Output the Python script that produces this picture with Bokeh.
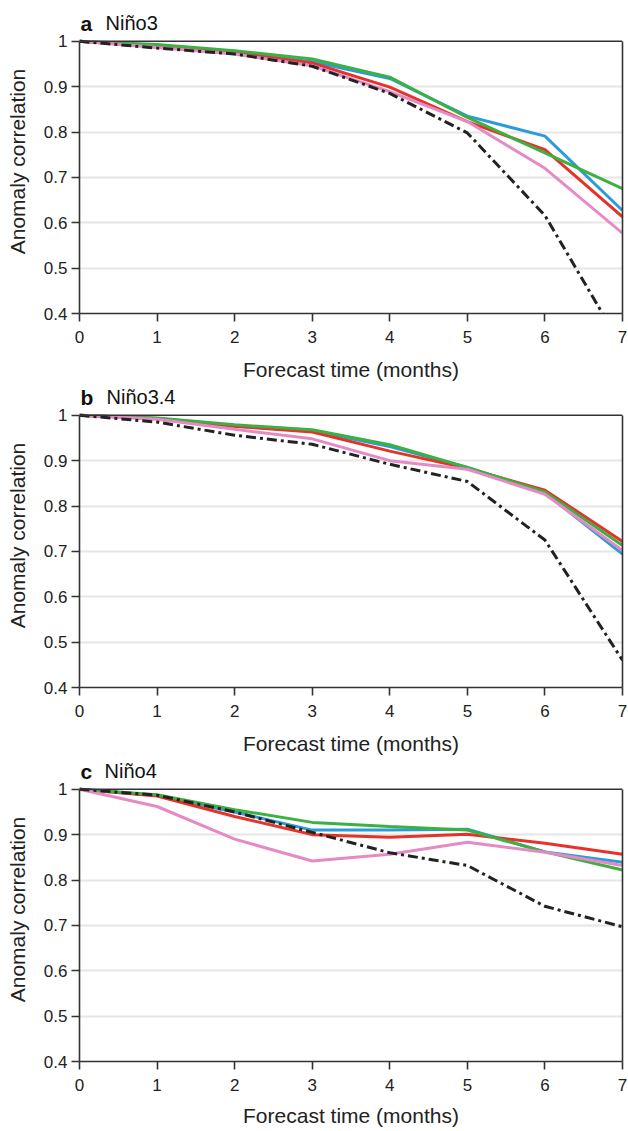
from bokeh.plotting import figure
from bokeh.layouts import column
from bokeh.models import Range1d, FixedTicker, CustomJSTickFormatter, LinearAxis, Span
from bokeh.core.properties import value
from bokeh.embed import file_html
from bokeh.resources import INLINE

months = [0, 1, 2, 3, 4, 5, 6, 7]
x_ticks = [0, 1, 2, 3, 4, 5, 6, 7]
y_ticks = [0.4, 0.5, 0.6, 0.7, 0.8, 0.9, 1.0]
grid_ticks = [0.4, 0.5, 0.6, 0.7, 0.8, 0.9]

panel_letters = ["a", "b", "c"]
panel_names = ["Niño3", "Niño3.4", "Niño4"]

# Niño3
n3_blue = [1.0, 0.990, 0.975, 0.955, 0.918, 0.835, 0.791, 0.627]
n3_red = [1.0, 0.988, 0.974, 0.952, 0.899, 0.823, 0.761, 0.613]
n3_green = [1.0, 0.993, 0.979, 0.961, 0.921, 0.832, 0.754, 0.675]
n3_pink = [1.0, 0.986, 0.972, 0.946, 0.889, 0.823, 0.720, 0.577]
n3_black = [1.0, 0.985, 0.972, 0.945, 0.885, 0.798, 0.616, 0.325]

# Niño3.4
n34_blue = [1.0, 0.993, 0.976, 0.966, 0.931, 0.885, 0.829, 0.694]
n34_red = [1.0, 0.993, 0.976, 0.963, 0.921, 0.883, 0.835, 0.722]
n34_green = [1.0, 0.994, 0.979, 0.968, 0.935, 0.885, 0.831, 0.713]
n34_pink = [1.0, 0.991, 0.969, 0.948, 0.900, 0.881, 0.826, 0.702]
n34_black = [1.0, 0.985, 0.956, 0.936, 0.892, 0.854, 0.725, 0.460]

# Niño4
n4_blue = [1.0, 0.986, 0.950, 0.910, 0.910, 0.912, 0.862, 0.839]
n4_red = [1.0, 0.985, 0.940, 0.900, 0.894, 0.901, 0.881, 0.857]
n4_green = [1.0, 0.988, 0.955, 0.927, 0.918, 0.910, 0.862, 0.822]
n4_pink = [1.0, 0.962, 0.890, 0.842, 0.857, 0.883, 0.861, 0.832]
n4_black = [1.0, 0.987, 0.950, 0.905, 0.860, 0.832, 0.742, 0.697]

panels = [
    (n3_blue, n3_red, n3_green, n3_pink, n3_black),
    (n34_blue, n34_red, n34_green, n34_pink, n34_black),
    (n4_blue, n4_red, n4_green, n4_pink, n4_black),
]

BLUE = "#2b9cd8"
RED = "#e5332a"
GREEN = "#3cb043"
PINK = "#e68ac6"
BLACK = "#222222"
AX = "#333333"
FONT = "Liberation Sans"

# frame covers 0.4..1.07 so that the panel title sits inside it
borders = [(9, 70), (0, 70), (0, 68)]
tick_standoffs = [9, 9, 9]
label_standoffs = [12, 12, 10]
name_offsets = [26, 27, 25]

figs = []
for i, (blue, red, green, pink, black) in enumerate(panels):
    top, bottom = borders[i]
    p = figure(frame_width=543, frame_height=304,
               x_range=Range1d(0, 7), y_range=Range1d(0.4, 1.07),
               output_backend="svg", toolbar_location=None,
               min_border_left=79, min_border_right=6,
               min_border_top=top, min_border_bottom=bottom)
    p.outline_line_color = None
    p.background_fill_color = "white"
    p.border_fill_color = "white"

    p.xgrid.grid_line_color = None
    p.ygrid.grid_line_color = "#e6e6e6"
    p.ygrid.grid_line_width = 2
    p.ygrid.ticker = FixedTicker(ticks=grid_ticks)

    p.xaxis.ticker = FixedTicker(ticks=x_ticks)
    p.yaxis.ticker = FixedTicker(ticks=y_ticks)
    p.yaxis.bounds = (0.4, 1.0)
    p.yaxis.formatter = CustomJSTickFormatter(code="return String(Math.round(tick*10)/10);")
    for ax in (p.xaxis[0], p.yaxis[0]):
        ax.axis_line_color = AX
        ax.axis_line_width = 1.6
        ax.major_tick_line_color = AX
        ax.major_tick_line_width = 1.6
        ax.major_tick_out = 8
        ax.major_tick_in = 0
        ax.minor_tick_line_color = None
        ax.major_label_text_font = FONT
        ax.major_label_text_font_size = "17px"
        ax.major_label_text_color = "#222222"
        ax.axis_label_text_font = FONT
        ax.axis_label_text_font_size = "21px"
        ax.axis_label_text_font_style = "normal"
        ax.axis_label_text_color = "#222222"
    p.xaxis.axis_label = "Forecast time (months)"
    p.yaxis.axis_label = "Anomaly correlation"
    p.xaxis.major_label_standoff = tick_standoffs[i]
    p.xaxis.axis_label_standoff = label_standoffs[i]
    p.yaxis.major_label_standoff = 4
    p.yaxis.axis_label_standoff = 12

    # right and top borders of the box
    right = LinearAxis(ticker=FixedTicker(ticks=[]), bounds=(0.4, 1.0),
                       axis_line_color=AX, axis_line_width=1.6,
                       major_tick_line_color=None, minor_tick_line_color=None,
                       major_label_text_font_size="0px")
    p.add_layout(right, "right")
    p.add_layout(Span(location=1.0, dimension="width", line_color=AX, line_width=1.6))

    p.line(months, blue, line_color=BLUE, line_width=3)
    p.line(months, red, line_color=RED, line_width=3)
    p.line(months, green, line_color=GREEN, line_width=3)
    p.line(months, pink, line_color=PINK, line_width=3)
    p.line(months, black, line_color=BLACK, line_width=3, line_dash="10 4 3 4")

    p.text(x=[0], y=[1.0], text=[panel_letters[i]], x_offset=1, y_offset=-18,
           text_font=value(FONT), text_font_size=value("21px"), text_font_style=value("bold"),
           text_color="#111111", text_baseline="alphabetic", text_align="left")
    p.text(x=[0], y=[1.0], text=[panel_names[i]], x_offset=name_offsets[i], y_offset=-18,
           text_font=value(FONT), text_font_size=value("20px"),
           text_color="#111111", text_baseline="alphabetic", text_align="left")
    figs.append(p)

layout = column(*figs, spacing=0)
open("out.html", "w").write(file_html(layout, INLINE))
